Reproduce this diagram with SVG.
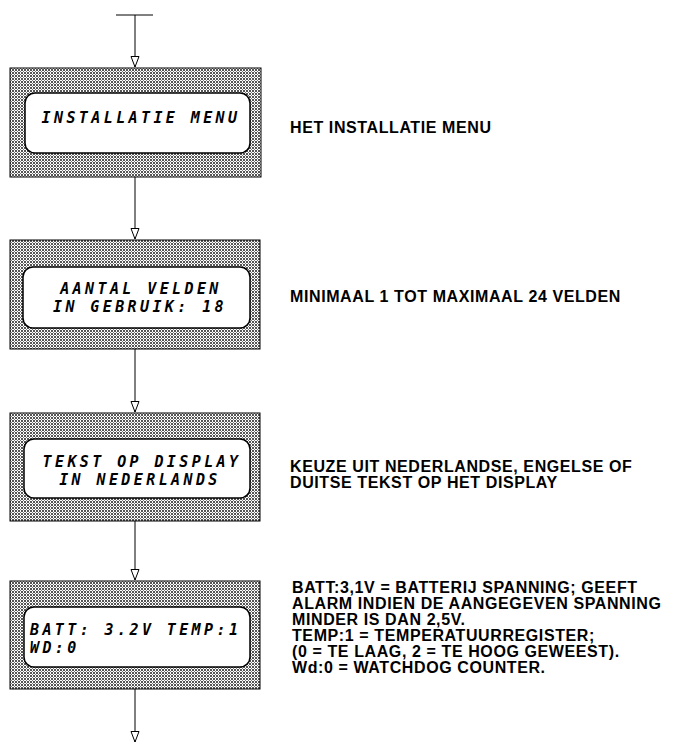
<svg xmlns="http://www.w3.org/2000/svg" width="686" height="752" viewBox="0 0 686 752">
<style>
.outer{fill:url(#hatch);stroke:#000;stroke-width:1}
.inner{fill:#fff;stroke:#000;stroke-width:1.5}
.lcd{font-family:"DejaVu Sans Mono",monospace;font-style:oblique;font-weight:bold;font-size:15px;letter-spacing:3.4px;fill:#000}
.note{font-family:"Liberation Sans",Arial,sans-serif;font-weight:bold;font-size:16px;letter-spacing:0.6px;fill:#000}
.conn{stroke:#000;stroke-width:1;fill:none}
</style>
<defs>
<pattern id="hatch" patternUnits="userSpaceOnUse" width="3" height="3">
<rect width="3" height="3" fill="#fff"/>
<rect width="2" height="2" fill="#555"/>
<rect x="2" y="2" width="1" height="1" fill="#777"/>
</pattern>
<marker id="arr" markerUnits="userSpaceOnUse" markerWidth="14" markerHeight="12" refX="11" refY="5" orient="auto">
<path d="M0.5,1 L11,5 L0.5,9 Z" fill="#fff" stroke="#000" stroke-width="1"/>
</marker>
</defs>
<g id="connectors">
<line class="conn" x1="116" y1="15" x2="153" y2="15"/>
<line class="conn" x1="135" y1="15" x2="135" y2="67" marker-end="url(#arr)"/>
<line class="conn" x1="135" y1="177" x2="135" y2="239" marker-end="url(#arr)"/>
<line class="conn" x1="135" y1="349" x2="135" y2="412" marker-end="url(#arr)"/>
<line class="conn" x1="135" y1="521" x2="135" y2="580" marker-end="url(#arr)"/>
<line class="conn" x1="135" y1="689" x2="135" y2="742" marker-end="url(#arr)"/>
</g>
<g id="node1">
<rect class="outer" x="10" y="68" width="251" height="109"/>
<rect class="inner" x="25" y="93" width="225" height="60" rx="10"/>
<text class="lcd" x="141" y="123" text-anchor="middle">INSTALLATIE MENU</text>
</g>
<g id="node2">
<rect class="outer" x="10" y="240" width="250" height="109"/>
<rect class="inner" x="23" y="267" width="227" height="61" rx="10"/>
<text class="lcd" x="141" y="294" text-anchor="middle">AANTAL VELDEN</text>
<text class="lcd" x="140" y="312" text-anchor="middle">IN GEBRUIK: 18</text>
</g>
<g id="node3">
<rect class="outer" x="10" y="413" width="250" height="108"/>
<rect class="inner" x="24" y="439" width="226" height="59" rx="10"/>
<text class="lcd" x="142" y="467" text-anchor="middle">TEKST OP DISPLAY</text>
<text class="lcd" x="140" y="485" text-anchor="middle">IN NEDERLANDS</text>
</g>
<g id="node4">
<rect class="outer" x="10" y="581" width="250" height="108"/>
<rect class="inner" x="24" y="607" width="226" height="60" rx="10"/>
<text class="lcd" x="30" y="635">BATT: 3.2V TEMP:1</text>
<text class="lcd" x="30" y="653">WD:0</text>
</g>
<g id="notes">
<text class="note" x="290" y="133">HET INSTALLATIE MENU</text>
<text class="note" x="290" y="302">MINIMAAL 1 TOT MAXIMAAL 24 VELDEN</text>
<text class="note" x="290" y="472">KEUZE UIT NEDERLANDSE, ENGELSE OF</text>
<text class="note" x="290" y="488">DUITSE TEKST OP HET DISPLAY</text>
<text class="note" x="292" y="593">BATT:3,1V = BATTERIJ SPANNING; GEEFT</text>
<text class="note" x="292" y="609">ALARM INDIEN DE AANGEGEVEN SPANNING</text>
<text class="note" x="292" y="625">MINDER IS DAN 2,5V.</text>
<text class="note" x="292" y="641">TEMP:1 = TEMPERATUURREGISTER;</text>
<text class="note" x="292" y="657">(0 = TE LAAG, 2 = TE HOOG GEWEEST).</text>
<text class="note" x="292" y="673">Wd:0 = WATCHDOG COUNTER.</text>
</g>
</svg>
